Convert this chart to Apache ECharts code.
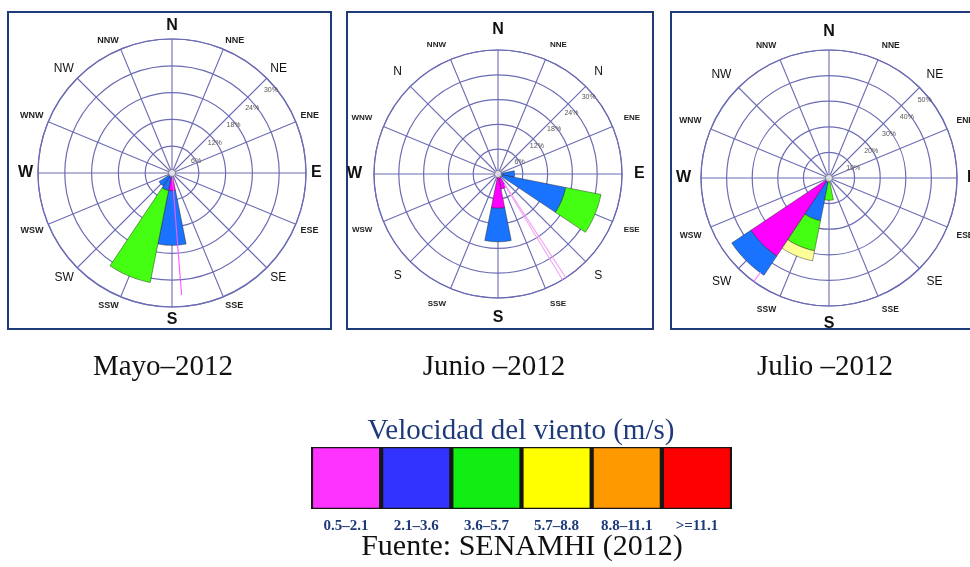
<!DOCTYPE html>
<html>
<head>
<meta charset="utf-8">
<script src="https://cdn.jsdelivr.net/npm/echarts@6/dist/echarts.min.js"></script>
<style>
  html, body { margin: 0; padding: 0; background: #ffffff; }
  #chart { width: 970px; height: 567px; }
</style>
</head>
<body>
<div id="chart"></div>
<script>
// Compass sectors, clockwise from north
const DIRECTIONS = ['N','NNE','NE','ENE','E','ESE','SE','SSE','S','SSW','SW','WSW','W','WNW','NW','NNW'];
const DIRECTIONS_JUNIO = ['N','NNE','N','ENE','E','ESE','S','SSE','S','SSW','S','WSW','W','WNW','N','NNW'];

// Wind speed classes (m/s)
const SPEED_CLASSES = ['0.5–2.1','2.1–3.6','3.6–5.7','5.7–8.8','8.8–11.1','>=11.1'];
const ROSE_COLORS   = ['#ff00ff','#1a73ff','#44ff11','#ffff99','#ff9900','#ff0000'];
const LEGEND_COLORS = ['#ff33ff','#3333ff','#11ee11','#ffff00','#ff9900','#ff0000'];

// Frequency (%) per direction and speed class — May 2012
const mayo_0521 = [0,0,0,0,0,0,0,0, 4.0, 0,   0,  0,0,0,0,0];
const mayo_2136 = [0,0,0,0,0,0,0,0,12.2, 4.0, 3.5,0,0,0,0,0];
const mayo_3657 = [0,0,0,0,0,0,0,0, 0,  21.0, 0,  0,0,0,0,0];

// June 2012
const junio_0521 = [0,0,0,0,0,  0,  0,3.7,8.3,0,0,0,0,0,0,0];
const junio_2136 = [0,0,0,0,4.0,16.7,0,0, 8.1,0,0,0,0,0,0,0];
const junio_3657 = [0,0,0,0,0,  8.7,0,0,  0,  0,0,0,0,0,0,0];

// July 2012
const julio_0521 = [0,0,0,0,0,0,0,0,0,   0,  36.7,0,0,0,0,0];
const julio_2136 = [0,0,0,0,0,0,0,0,0,  17.0, 9.0,0,0,0,0,0];
const julio_3657 = [0,0,0,0,0,0,0,0,8.7,12.0, 0,  0,0,0,0,0];
const julio_5788 = [0,0,0,0,0,0,0,0,0,   4.0, 0,  0,0,0,0,0];

// Ring ticks (%)
const RINGS_MAYO  = [6,12,18,24,30];
const RINGS_JUNIO = [6,12,18,24,30];
const RINGS_JULIO = [10,20,30,40,50];

// Thin magenta traces: [bearing (deg), from %, to %]
const TRACES_MAYO  = [[175.5, 0, 27.4]];
const TRACES_JUNIO = [[146.8, 3, 35], [148.6, 3, 35]];
const TRACES_JULIO = [[216.0, 45.5, 53.5]];

const CAPTIONS = ['Mayo–2012', 'Junio –2012', 'Julio –2012'];
const LEGEND_TITLE = 'Velocidad del viento (m/s)';
const SOURCE = 'Fuente: SENAMHI (2012)';

const SECTOR = 22.5;
const HALF = SECTOR / 2;
const SANS = 'Liberation Sans, Arial, sans-serif';
const SERIF = 'Liberation Serif, Times New Roman, serif';
const GRID = '#6c6cb4';
const RING_LABEL_BEARING = 46.5;

const panels = [
  { center: [172, 173], radius: 134, labels: DIRECTIONS, classes: [mayo_0521, mayo_2136, mayo_3657],
    rings: RINGS_MAYO, traces: TRACES_MAYO, traceColor: '#ff55ff', margin: 5, small: 9, mid: 12, big: 16,
    ringShift: 7.8, box: [8, 12, 323, 317], caption: [163, 367] },
  { center: [498, 174], radius: 124, labels: DIRECTIONS_JUNIO, classes: [junio_0521, junio_2136, junio_3657],
    rings: RINGS_JUNIO, traces: TRACES_JUNIO, traceColor: '#f2a2f2', margin: 12, small: 8, mid: 12, big: 16,
    ringShift: 6.3, box: [347, 12, 306, 317], caption: [494, 367] },
  { center: [829, 178], radius: 128, labels: DIRECTIONS, classes: [julio_0521, julio_2136, julio_3657, julio_5788],
    rings: RINGS_JULIO, traces: TRACES_JULIO, traceColor: '#ff77ff', margin: 10, small: 8.5, mid: 12, big: 16,
    ringShift: 9.4, box: [671, 12, 330, 317], caption: [825, 367] }
];

function renderSector(params, api) {
  const a = api.value(0), r0 = api.value(1), r1 = api.value(2);
  const n = 16, pts = [];
  for (let k = 0; k <= n; k++) pts.push(api.coord([r1, a - HALF + (2 * HALF * k) / n]));
  for (let k = n; k >= 0; k--) pts.push(api.coord([r0, a - HALF + (2 * HALF * k) / n]));
  return {
    type: 'polygon',
    shape: { points: pts },
    style: { fill: api.visual('color'), stroke: 'rgba(25,25,25,0.55)', lineWidth: 0.8 }
  };
}

const polar = [], angleAxis = [], radiusAxis = [], series = [], graphic = [];

panels.forEach((p, i) => {
  const ringMax = p.rings[p.rings.length - 1];
  const ringStep = p.rings[0];
  polar.push({ center: p.center, radius: p.radius });
  angleAxis.push({
    polarIndex: i, type: 'value', min: 0, max: 360, interval: SECTOR,
    startAngle: 90, clockwise: true,
    axisLine: { show: true, lineStyle: { color: GRID, width: 1.2 } },
    axisTick: { show: false },
    splitLine: { show: true, lineStyle: { color: GRID, width: 1.1 } },
    axisLabel: {
      show: true, margin: p.margin,
      formatter: v => {
        const k = Math.round(v / SECTOR);
        if (k >= 16) return '';
        const style = k % 4 === 0 ? 'big' : (k % 2 === 0 ? 'mid' : 'small');
        return '{' + style + '|' + p.labels[k] + '}';
      },
      rich: {
        big:   { fontSize: p.big,   fontWeight: 'bold', fontFamily: SANS, color: '#111' },
        mid:   { fontSize: p.mid,   fontWeight: 'normal', fontFamily: SANS, color: '#111' },
        small: { fontSize: p.small, fontWeight: 'bold', fontFamily: SANS, color: '#222' }
      }
    }
  });
  radiusAxis.push({
    polarIndex: i, type: 'value', min: 0, max: ringMax, interval: ringStep,
    axisLine: { show: false }, axisTick: { show: false }, axisLabel: { show: false },
    splitLine: { show: true, lineStyle: { color: GRID, width: 1.2 } }
  });

  // stacked sectors, inner class first
  const base = new Array(16).fill(0);
  p.classes.forEach((vals, c) => {
    const data = [];
    vals.forEach((v, d) => {
      if (v > 0) { data.push([d * SECTOR, base[d], base[d] + v]); base[d] += v; }
    });
    series.push({
      type: 'custom', coordinateSystem: 'polar', polarIndex: i, name: SPEED_CLASSES[c],
      renderItem: renderSector, data: data, encode: { angle: 0, radius: 2 },
      itemStyle: { color: ROSE_COLORS[c] }, silent: true, z: 3
    });
  });

  p.traces.forEach(t => {
    series.push({
      type: 'line', coordinateSystem: 'polar', polarIndex: i, clip: false,
      data: [[t[1], t[0]], [t[2], t[0]]], symbol: 'none', silent: true,
      lineStyle: { color: p.traceColor, width: 1.1 }, z: 4
    });
  });

  // calm centre
  series.push({
    type: 'scatter', coordinateSystem: 'polar', polarIndex: i, data: [[0, 0]],
    symbolSize: 7, silent: true, z: 5,
    itemStyle: { color: '#ffffff', borderColor: '#777', borderWidth: 1 }
  });

  graphic.push({
    type: 'rect', shape: { x: p.box[0], y: p.box[1], width: p.box[2], height: p.box[3] },
    style: { fill: 'none', stroke: '#1f3c78', lineWidth: 2 }, silent: true
  });
  graphic.push({
    type: 'text', x: p.caption[0], y: p.caption[1], silent: true,
    style: { text: CAPTIONS[i], fill: '#111', font: '29px ' + SERIF, align: 'center', verticalAlign: 'middle' }
  });
});

// percentage labels: a label-only radius axis, set slightly off the 46.5° spoke
panels.forEach((p, i) => {
  const ringMax = p.rings[p.rings.length - 1];
  const rad = RING_LABEL_BEARING * Math.PI / 180;
  const cx = p.center[0] + p.ringShift * Math.cos(rad);
  const cy = p.center[1] + p.ringShift * Math.sin(rad);
  polar.push({ center: [cx, cy], radius: p.radius - 5 });
  angleAxis.push({ polarIndex: 3 + i, type: 'value', min: 0, max: 360,
                   startAngle: 90 - RING_LABEL_BEARING, show: false });
  radiusAxis.push({
    polarIndex: 3 + i, type: 'value', min: 0, max: ringMax, interval: p.rings[0],
    axisLine: { show: false }, axisTick: { show: false }, splitLine: { show: false },
    axisLabel: { show: true, showMinLabel: false, margin: 0, formatter: '{value}%',
                 align: 'center', verticalAlign: 'middle',
                 fontSize: 7, fontFamily: SANS, color: '#555' }
  });
});

// Speed-class colour key
series.push({
  type: 'bar', xAxisIndex: 0, yAxisIndex: 0, barCategoryGap: '6%', silent: true,
  data: SPEED_CLASSES.map((s, k) => ({ value: 1, itemStyle: { color: LEGEND_COLORS[k] } }))
});

graphic.push({
  type: 'text', x: 521, y: 431, silent: true,
  style: { text: LEGEND_TITLE, fill: '#1f3a7a', font: '29px ' + SERIF, align: 'center', verticalAlign: 'middle' }
});
graphic.push({
  type: 'text', x: 522, y: 547, silent: true,
  style: { text: SOURCE, fill: '#111', font: '30px ' + SERIF, align: 'center', verticalAlign: 'middle' }
});

const option = {
  backgroundColor: '#ffffff',
  animation: false,
  polar, angleAxis, radiusAxis,
  grid: [{ left: 311, top: 447, width: 421, height: 62, show: true,
           backgroundColor: '#161616', borderWidth: 0 }],
  xAxis: [{
    type: 'category', gridIndex: 0, data: SPEED_CLASSES,
    axisLine: { show: false }, axisTick: { show: false },
    axisLabel: { margin: 10, fontSize: 15, fontWeight: 'bold', fontFamily: SERIF, color: '#1f3a7a' }
  }],
  yAxis: [{ type: 'value', gridIndex: 0, min: -0.02, max: 1.02, show: false }],
  series,
  graphic
};

const chart = echarts.init(document.getElementById('chart'), null, { renderer: 'canvas' });
chart.setOption(option);
</script>
</body>
</html>
